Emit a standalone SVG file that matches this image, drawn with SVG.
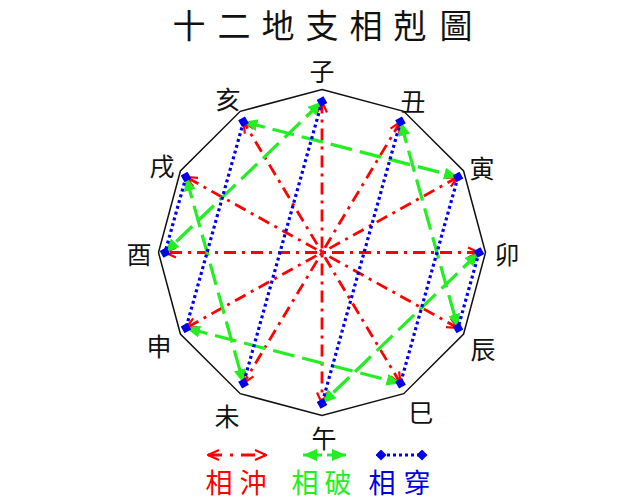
<svg xmlns="http://www.w3.org/2000/svg" width="643" height="500" viewBox="0 0 643 500">
<style>
text{font-family:"Noto Sans CJK TC","Noto Sans CJK SC",sans-serif;text-anchor:middle;dominant-baseline:central}
.title{font-size:33px;fill:#111}
.lbl{font-size:25px;fill:#111}
.leg{font-size:27px}
.chong{stroke:#ff0000;stroke-width:2.8;stroke-dasharray:12 6 3 6;fill:none;marker-start:url(#ra);marker-end:url(#ra)}
.po{stroke:#22ee22;stroke-width:3.2;stroke-dasharray:22 8;fill:none;marker-start:url(#ga);marker-end:url(#ga)}
.chuan{stroke:#0000ee;stroke-width:3.2;stroke-dasharray:3 3;fill:none;marker-start:url(#bd);marker-end:url(#bd)}
</style>
<defs>
<marker id="ra" viewBox="0 0 13 13" refX="12" refY="6.5" markerWidth="13" markerHeight="13" markerUnits="userSpaceOnUse" orient="auto-start-reverse">
<path d="M1,1.5 L12,6.5 L1,11.5" fill="none" stroke="#ff0000" stroke-width="2.2"/>
</marker>
<marker id="ga" viewBox="0 0 14 12" refX="14" refY="6" markerWidth="14" markerHeight="12" markerUnits="userSpaceOnUse" orient="auto-start-reverse">
<path d="M0,0 L14,6 L0,12 z" fill="#22ee22"/>
</marker>
<marker id="bd" viewBox="0 0 11 11" refX="5.5" refY="5.5" markerWidth="11" markerHeight="11" markerUnits="userSpaceOnUse" orient="auto-start-reverse">
<path d="M0,5.5 L5.5,0 L11,5.5 L5.5,11 z" fill="#0000ee"/>
</marker>
</defs>
<rect width="643" height="500" fill="#ffffff"/>
<text class="title" y="24"><tspan x="189">十</tspan><tspan x="234">二</tspan><tspan x="278">地</tspan><tspan x="322">支</tspan><tspan x="366">相</tspan><tspan x="410">剋</tspan><tspan x="456">圖</tspan></text>
<g id="frame">
<polygon points="322,89.5 403.75,111.3 463.6,171 485.5,252.5 463.6,334 403.75,393.7 322,415.5 240.25,393.7 180.4,334 158.5,252.5 180.4,171 240.25,111.3" fill="none" stroke="#111" stroke-width="1.5"/>
</g>
<g id="connectors">
<g id="chong-lines">
<line class="chong" x1="322" y1="101.5" x2="322" y2="403.5"/>
<line class="chong" x1="400.5" y1="121.7" x2="243.5" y2="383.3"/>
<line class="chong" x1="458" y1="177" x2="186" y2="328"/>
<line class="chong" x1="479" y1="252.5" x2="165" y2="252.5"/>
<line class="chong" x1="458" y1="328" x2="186" y2="177"/>
<line class="chong" x1="400.5" y1="383.3" x2="243.5" y2="121.7"/>
</g>
<g id="po-lines">
<line class="po" x1="322" y1="101.5" x2="165" y2="252.5"/>
<line class="po" x1="479" y1="252.5" x2="322" y2="403.5"/>
<line class="po" x1="400.5" y1="121.7" x2="458" y2="328"/>
<line class="po" x1="243.5" y1="121.7" x2="458" y2="177"/>
<line class="po" x1="186" y1="328" x2="400.5" y2="383.3"/>
<line class="po" x1="186" y1="177" x2="243.5" y2="383.3"/>
</g>
<g id="chuan-lines">
<line class="chuan" x1="322" y1="101.5" x2="243.5" y2="383.3"/>
<line class="chuan" x1="400.5" y1="121.7" x2="322" y2="403.5"/>
<line class="chuan" x1="458" y1="177" x2="400.5" y2="383.3"/>
<line class="chuan" x1="479" y1="252.5" x2="458" y2="328"/>
<line class="chuan" x1="243.5" y1="121.7" x2="186" y2="328"/>
<line class="chuan" x1="186" y1="177" x2="165" y2="252.5"/>
</g>
</g>
<g id="n-zi"><text class="lbl" x="322" y="70">子</text></g>
<g id="n-chou"><text class="lbl" x="413" y="100">丑</text></g>
<g id="n-yin"><text class="lbl" x="482" y="167">寅</text></g>
<g id="n-mao"><text class="lbl" x="507" y="253">卯</text></g>
<g id="n-chen"><text class="lbl" x="483" y="348">辰</text></g>
<g id="n-si"><text class="lbl" x="421" y="411">巳</text></g>
<g id="n-wu"><text class="lbl" x="324" y="437">午</text></g>
<g id="n-wei"><text class="lbl" x="227" y="415">未</text></g>
<g id="n-shen"><text class="lbl" x="159" y="345">申</text></g>
<g id="n-you"><text class="lbl" x="139" y="253">酉</text></g>
<g id="n-xu"><text class="lbl" x="162" y="165">戌</text></g>
<g id="n-hai"><text class="lbl" x="228" y="98">亥</text></g>
<g id="legend">
<line class="chong" x1="208" y1="455" x2="266" y2="455" style="stroke-dasharray:14 8 3 8"/>
<line class="po" x1="303" y1="455" x2="346" y2="455" style="stroke-dasharray:19 5"/>
<line class="chuan" x1="381" y1="455" x2="422" y2="455"/>
<text class="leg" y="481" fill="#ff0000"><tspan x="219">相</tspan><tspan x="253">沖</tspan></text>
<text class="leg" y="481" fill="#22ee22"><tspan x="305">相</tspan><tspan x="338">破</tspan></text>
<text class="leg" y="481" fill="#0000dd"><tspan x="382">相</tspan><tspan x="417">穿</tspan></text>
</g>
</svg>
